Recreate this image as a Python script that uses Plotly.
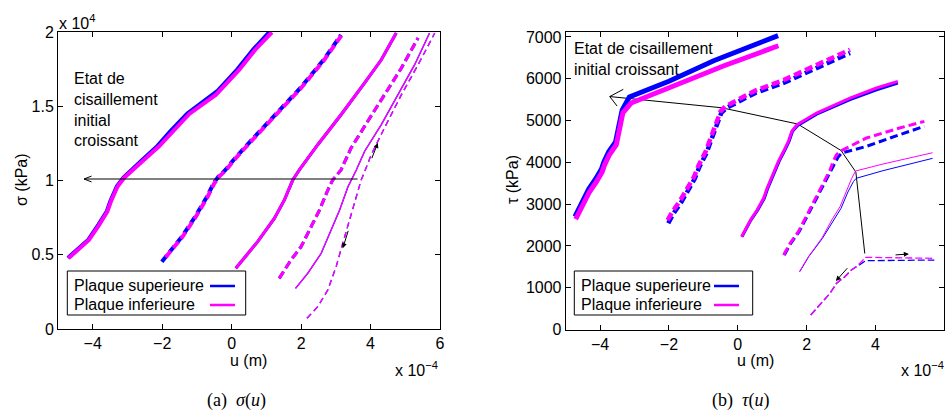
import plotly.graph_objects as go

W, H = 946, 415
BLUE = "#0000ff"
MAG = "#ff00ff"
SANS = "Liberation Sans, Arial, sans-serif"
SERIF = "Liberation Serif, Times New Roman, serif"
FS = 16

# ---------------- panel (a): sigma(u)   u in 1e-4 m, sigma in 1e4 kPa
a1_u = [-4.70, -4.11, -3.82, -3.58, -3.48, -3.29, -3.10, -2.86, -2.57, -2.09, -1.70, -1.22, -0.45, -0.36, 0.22, 0.68, 1.16]
a1_s = [0.476, 0.599, 0.700, 0.790, 0.857, 0.958, 1.017, 1.071, 1.129, 1.230, 1.331, 1.448, 1.578, 1.601, 1.746, 1.881, 1.998]
a1b_u = [-4.72, -4.13, -3.84, -3.60, -3.50, -3.31, -3.12, -2.89, -2.61, -2.14, -1.76, -1.28, -0.52, -0.41, 0.16, 0.62, 1.08]
a1b_s = [0.480, 0.603, 0.704, 0.794, 0.861, 0.962, 1.021, 1.075, 1.133, 1.234, 1.335, 1.452, 1.582, 1.605, 1.750, 1.885, 2.000]

a2_u = [-1.90, -1.41, -1.03, -0.69, -0.50, -0.36, -0.16, 0.08, 0.56, 1.23, 2.00, 2.67, 3.17]
a2_s = [0.483, 0.622, 0.756, 0.891, 0.981, 1.026, 1.071, 1.140, 1.264, 1.432, 1.623, 1.813, 1.980]
a2b_u = [-2.01, -1.43, -1.05, -0.71, -0.52, -0.38, -0.18, 0.06, 0.54, 1.21, 1.98, 2.65, 3.15]
a2b_s = [0.453, 0.622, 0.756, 0.891, 0.981, 1.026, 1.071, 1.140, 1.264, 1.432, 1.623, 1.813, 1.980]

a3_u = [0.12, 0.75, 1.23, 1.52, 1.76, 1.95, 2.48, 3.15, 3.83, 4.31, 4.74]
a3_s = [0.409, 0.588, 0.745, 0.869, 1.003, 1.071, 1.241, 1.443, 1.657, 1.813, 1.993]

a4_u = [1.37, 1.71, 2.00, 2.29, 2.53, 2.77, 2.91, 3.15, 3.44, 3.92, 4.40, 4.89, 5.37]
a4_s = [0.341, 0.465, 0.554, 0.689, 0.801, 0.936, 1.003, 1.071, 1.219, 1.399, 1.578, 1.758, 1.960]

a5_u = [1.84, 2.19, 2.58, 2.87, 3.11, 3.35, 3.59, 3.83, 4.31, 4.79, 5.27, 5.70]
a5_s = [0.274, 0.375, 0.510, 0.667, 0.801, 0.958, 1.071, 1.197, 1.376, 1.578, 1.780, 1.993]

a6_u = [2.17, 2.48, 2.77, 3.01, 3.20, 3.39, 3.59, 3.73, 3.81, 4.02, 4.40, 4.89, 5.37, 5.85]
a6_s = [0.072, 0.150, 0.263, 0.420, 0.577, 0.734, 0.891, 1.003, 1.048, 1.174, 1.354, 1.578, 1.780, 1.993]

# ---------------- panel (b): tau(u)   u in 1e-4 m, tau in kPa
b1_u = [-4.71, -4.50, -4.31, -4.11, -3.94, -3.87, -3.73, -3.53, -3.44, -3.34, -3.10, -2.00, -0.40, 1.18]
b1_t = [2640, 3010, 3290, 3530, 3770, 3940, 4180, 4420, 4780, 5180, 5418, 5790, 6310, 6788]
b1b_u = [-4.73, -4.52, -4.33, -4.13, -3.96, -3.89, -3.75, -3.55, -3.46, -3.36, -3.15, -2.00, -0.70, 1.17]
b1b_t = [2700, 3080, 3360, 3600, 3840, 4010, 4250, 4490, 4850, 5250, 5562, 5940, 6430, 7030]

b2_u = [-2.04, -1.90, -1.66, -1.46, -1.27, -1.13, -0.93, -0.79, -0.69, -0.60, -0.50, -0.36, 0.51, 1.33, 3.26]
b2_t = [2619, 2818, 3105, 3378, 3655, 3942, 4263, 4581, 4820, 5059, 5219, 5339, 5717, 5968, 6693]
b2b_u = [-2.02, -1.88, -1.64, -1.44, -1.25, -1.11, -0.91, -0.77, -0.67, -0.58, -0.48, -0.33, 0.51, 1.33, 3.26]
b2b_t = [2540, 2760, 3050, 3330, 3610, 3900, 4220, 4540, 4780, 5020, 5180, 5300, 5660, 5900, 6614]

b3_u = [0.11, 0.37, 0.56, 0.75, 0.85, 0.99, 1.18, 1.33, 1.47, 1.57, 1.72, 2.29, 3.26, 4.03, 4.65]
b3_t = [2220, 2619, 2858, 3138, 3378, 3660, 4023, 4263, 4502, 4741, 4899, 5179, 5537, 5777, 5937]
b3b_u = [0.12, 0.38, 0.58, 0.77, 0.87, 1.01, 1.20, 1.35, 1.49, 1.59, 1.74, 2.29, 3.26, 4.03, 4.65]
b3b_t = [2220, 2619, 2858, 3138, 3378, 3660, 4023, 4263, 4502, 4741, 4880, 5150, 5500, 5735, 5896]

b4_u = [1.33, 1.52, 1.76, 1.96, 2.15, 2.39, 2.58, 2.68, 2.77, 2.87, 2.97, 3.74, 4.70, 5.42]
b4_t = [1782, 2062, 2339, 2660, 2937, 3337, 3655, 3815, 4023, 4181, 4263, 4581, 4820, 4980]
b4b_u = [1.35, 1.54, 1.78, 1.98, 2.17, 2.41, 2.60, 2.70, 2.80, 2.91, 3.02, 3.74, 4.70, 5.42]
b4b_t = [1782, 2062, 2339, 2660, 2937, 3337, 3655, 3800, 3980, 4120, 4222, 4382, 4660, 4861]

b5_u = [1.79, 2.05, 2.44, 2.73, 2.97, 3.16, 3.31, 3.42, 4.22, 5.66]
b5_t = [1383, 1741, 2182, 2619, 2937, 3337, 3617, 3791, 3959, 4229]
b5b_u = [1.80, 2.06, 2.46, 2.76, 3.00, 3.20, 3.36, 3.44, 4.22, 5.66]
b5b_t = [1383, 1741, 2182, 2600, 2900, 3290, 3540, 3617, 3800, 4095]

b6_u = [2.12, 2.39, 2.68, 2.87, 3.11, 3.30, 3.50, 3.64, 3.69, 5.71]
b6_t = [347, 586, 866, 1105, 1263, 1423, 1543, 1662, 1727, 1703]
b6b_u = [2.12, 2.39, 2.68, 2.87, 3.11, 3.30, 3.50, 3.66, 3.72, 5.71]
b6b_t = [347, 586, 866, 1105, 1263, 1423, 1530, 1610, 1646, 1662]

# black line joining the peaks in (b)
path_u = [-3.72, -0.47, 1.74, 3.00, 3.43, 3.69]
path_t = [5573, 5305, 4916, 4282, 3767, 1818]

x_ticks = [-4, -2, 0, 2, 4, 6]
sig_ticks = [0, 0.5, 1, 1.5, 2]
sig_labels = ["0", "0.5", "1", "1.5", "2"]
tau_ticks = [0, 1000, 2000, 3000, 4000, 5000, 6000, 7000]


def px(x):
    return x / W


def py(y):
    return 1 - y / H


fig = go.Figure()


def line(u, v, color, width, dash="solid", xa="x", ya="y"):
    fig.add_trace(go.Scatter(x=u, y=v, mode="lines", xaxis=xa, yaxis=ya,
                             line=dict(color=color, width=width, dash=dash),
                             showlegend=False, hoverinfo="skip"))


# panel (a)
line(a1b_u, a1b_s, BLUE, 3.5)
line(a1_u, a1_s, MAG, 4)
line(a2b_u, a2b_s, BLUE, 4, "8px,4px")
line(a2_u, a2_s, MAG, 4, "8px,4px")
line(a3_u, a3_s, BLUE, 3)
line(a3_u, a3_s, MAG, 3)
line(a4_u, a4_s, BLUE, 3, "8px,4px")
line(a4_u, a4_s, MAG, 3, "8px,4px")
line(a5_u, a5_s, BLUE, 1.3)
line(a5_u, a5_s, MAG, 1.3)
line(a6_u, a6_s, BLUE, 1.3, "6px,4px")
line(a6_u, a6_s, MAG, 1.3, "6px,4px")

# panel (b)
line(path_u, path_t, "black", 1, xa="x2", ya="y2")
line(b1b_u, b1b_t, BLUE, 5, xa="x2", ya="y2")
line(b1_u, b1_t, MAG, 5, xa="x2", ya="y2")
line(b2b_u, b2b_t, BLUE, 4.5, "8px,4px", "x2", "y2")
line(b2_u, b2_t, MAG, 4.5, "8px,4px", "x2", "y2")
line(b3b_u, b3b_t, BLUE, 3, xa="x2", ya="y2")
line(b3_u, b3_t, MAG, 3, xa="x2", ya="y2")
line(b4b_u, b4b_t, BLUE, 3, "8px,4px", "x2", "y2")
line(b4_u, b4_t, MAG, 3, "8px,4px", "x2", "y2")
line(b5b_u, b5b_t, BLUE, 1, xa="x2", ya="y2")
line(b5_u, b5_t, MAG, 1, xa="x2", ya="y2")
line(b6b_u, b6b_t, BLUE, 1.3, "7px,3px", "x2", "y2")
line(b6_u, b6_t, MAG, 1.3, "7px,3px", "x2", "y2")

axis_common = dict(showgrid=False, zeroline=False, showline=True, linecolor="black",
                   linewidth=1, mirror="ticks", ticks="inside", ticklen=5, automargin=False,
                   tickcolor="black", tickfont=dict(family=SANS, size=FS, color="black"))

fig.update_layout(
    template="none",
    width=W, height=H,
    margin=dict(l=0, r=0, t=0, b=0, autoexpand=False),
    paper_bgcolor="white", plot_bgcolor="white",
    xaxis=dict(domain=[px(58), px(440)], range=[-5, 6], tickvals=x_ticks, anchor="y", **axis_common),
    yaxis=dict(domain=[py(329), py(32)], range=[0, 2], tickvals=sig_ticks, ticktext=sig_labels,
               anchor="x", **axis_common),
    xaxis2=dict(domain=[px(565.7), px(944.3)], range=[-5, 6], tickvals=x_ticks, anchor="y2", **axis_common),
    yaxis2=dict(domain=[py(329.5), py(32.3)], range=[0, 7110], tickvals=tau_ticks, anchor="x2", **axis_common),
)

ann = []


def text(x, y, s, size=FS, family=SANS, xanchor="center", yanchor="middle", angle=0, align="left"):
    ann.append(dict(x=px(x), y=py(y), xref="paper", yref="paper", text=s, showarrow=False,
                    xanchor=xanchor, yanchor=yanchor, textangle=angle, align=align,
                    font=dict(family=family, size=size, color="black")))


text(57, 22, "x 10<sup>4</sup>", xanchor="left")
text(393, 369, "x 10<sup>−4</sup>", xanchor="left")
text(899, 369, "x 10<sup>−4</sup>", xanchor="left")
text(249, 360, "u (m)")
text(755, 360, "u (m)")
text(21, 180, "σ (kPa)", angle=-90)
text(512, 180, "τ (kPa)", angle=-90)
text(236, 400, "(a)  <i>σ</i>(<i>u</i>)", size=18, family=SERIF)
text(740, 400, "(b)  <i>τ</i>(<i>u</i>)", size=18, family=SERIF)
text(72, 110, "Etat de<br>cisaillement<br>initial<br>croissant", xanchor="left")
text(572, 59, "Etat de cisaillement<br>initial croissant", xanchor="left")

# legends (text left, line sample right)
shapes = []
for x0, x1, tx, l0, l1 in [(67.3, 245.7, 72, 210, 235), (574.3, 752.7, 579, 714, 739)]:
    shapes.append(dict(type="rect", xref="paper", yref="paper", x0=px(x0), x1=px(x1),
                       y0=py(315), y1=py(271), line=dict(color="black", width=1),
                       fillcolor="white", layer="above"))
    for yy, lab, col in [(285.5, "Plaque superieure", BLUE), (304.5, "Plaque inferieure", MAG)]:
        text(tx, yy, lab, xanchor="left")
        shapes.append(dict(type="line", xref="paper", yref="paper", x0=px(l0), x1=px(l1),
                           y0=py(yy + 0.5), y1=py(yy + 0.5), line=dict(color=col, width=2.5), layer="above"))


def arrow(xa, ya, x, y, ax, ay, head=2, size=1.0):
    ann.append(dict(x=x, y=y, ax=ax, ay=ay, xref=xa, yref=ya, axref=xa, ayref=ya, text="",
                    showarrow=True, arrowhead=head, arrowsize=size, arrowwidth=1,
                    arrowcolor="black", standoff=0))


def barb(xa, ya, x, y, dx, dy):
    ann.append(dict(x=x, y=y, ax=dx, ay=dy, xref=xa, yref=ya, text="", showarrow=True,
                    arrowhead=0, arrowwidth=1, arrowcolor="black", standoff=0))


# panel (a) arrows
arrow("x", "y", -4.25, 1.01, 3.67, 1.01, head=0)
barb("x", "y", -4.25, 1.01, 9, -3.5)
barb("x", "y", -4.25, 1.01, 9, 3.5)
arrow("x", "y", 4.21, 1.253, 4.02, 1.140)
arrow("x", "y", 3.20, 0.543, 3.37, 0.671)

# panel (b) arrows
barb("x2", "y2", path_u[0], path_t[0], 15, -8)
barb("x2", "y2", path_u[0], path_t[0], 8.5, 11)
arrow("x2", "y2", 2.85, 1160, 3.22, 1502)
arrow("x2", "y2", 4.97, 1806, 4.54, 1782)

fig.update_layout(annotations=ann, shapes=shapes)
fig.write_html("out.html", config={"displayModeBar": False},
               post_script="document.body.style.margin='0';document.body.style.overflow='hidden';")
